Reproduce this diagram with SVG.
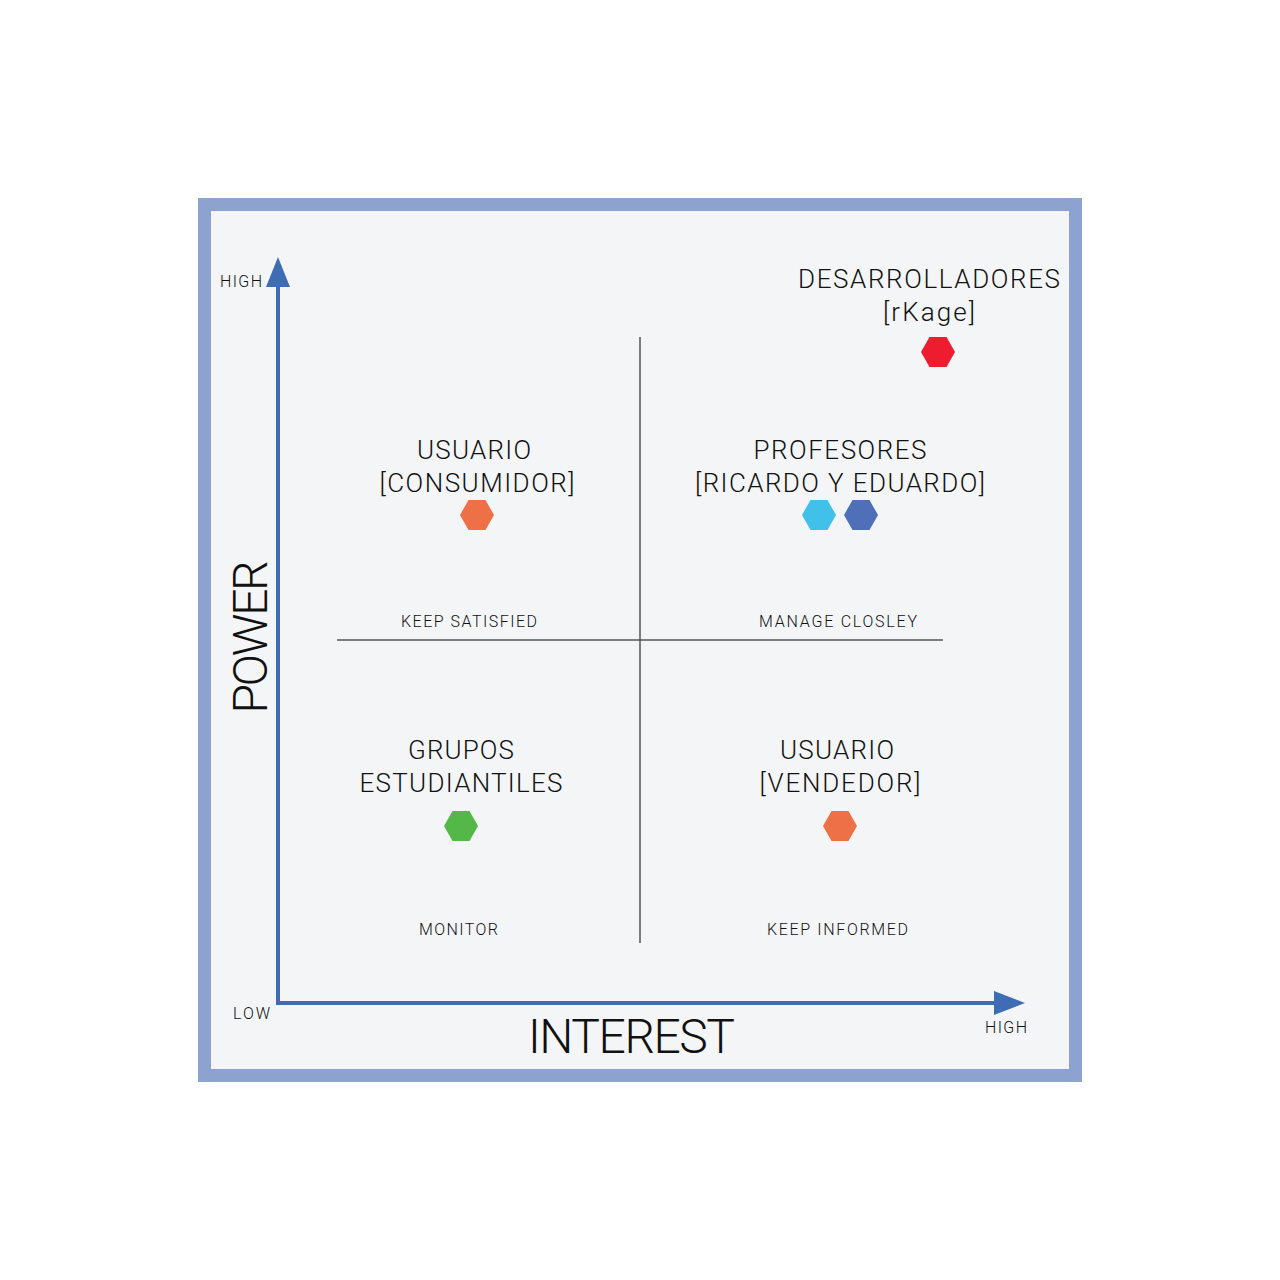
<svg xmlns="http://www.w3.org/2000/svg" width="1280" height="1280" viewBox="0 0 1280 1280">
<style>
text{font-family:Roboto,"Liberation Sans",sans-serif;fill:#111;text-anchor:middle;font-weight:300}
.big{font-size:26px}
.sm{font-size:16px}
.axl{font-size:16px}
.q{stroke:#555;stroke-width:1.5;fill:none}
.ax{stroke:#3f6db5;stroke-width:4;fill:none}
</style>
<defs>
<polygon id="hex" points="-17,0 -8.5,-15 8.5,-15 17,0 8.5,15 -8.5,15"/>
</defs>
<rect width="1280" height="1280" fill="#fff"/>
<rect x="204.5" y="204.5" width="871" height="871" fill="#f4f5f7" stroke="#8ea2cf" stroke-width="13"/>
<g id="connectors">
<line class="q" x1="640" y1="337" x2="640" y2="943"/>
<line class="q" x1="337" y1="640" x2="943" y2="640"/>
<line class="ax" x1="278" y1="285" x2="278" y2="1003"/>
<line class="ax" x1="276" y1="1003" x2="996" y2="1003"/>
<polygon points="278,257 290,287 266,287" fill="#3f6db5"/>
<polygon points="1025,1003 994,991 994,1015" fill="#3f6db5"/>
</g>
<g id="axis-labels">
<text class="axl" x="241" y="287" textLength="42">HIGH</text>
<text class="axl" x="251.5" y="1019" textLength="37">LOW</text>
<text class="axl" x="1006" y="1033" textLength="42">HIGH</text>
<text x="631.5" y="1053" font-size="48" textLength="207">INTEREST</text>
<text x="0" y="0" font-size="48" textLength="153" transform="translate(267,637) rotate(-90)">POWER</text>
</g>
<g id="quadrant-labels">
<text class="sm" x="469" y="627" textLength="136">KEEP SATISFIED</text>
<text class="sm" x="838" y="627" textLength="158">MANAGE CLOSLEY</text>
<text class="sm" x="458.5" y="935" textLength="79">MONITOR</text>
<text class="sm" x="837.5" y="935" textLength="141">KEEP INFORMED</text>
</g>
<g id="desarrolladores">
<text class="big" x="929" y="288" textLength="262">DESARROLLADORES</text>
<text class="big" x="929" y="321" textLength="92">[rKage]</text>
<use href="#hex" x="938" y="352" fill="#ed1c2e"/>
</g>
<g id="usuario-consumidor">
<text class="big" x="474" y="459" textLength="114">USUARIO</text>
<text class="big" x="477" y="492" textLength="195">[CONSUMIDOR]</text>
<use href="#hex" x="477" y="515" fill="#ee7047"/>
</g>
<g id="profesores">
<text class="big" x="840" y="459" textLength="173">PROFESORES</text>
<text class="big" x="840" y="492" textLength="290">[RICARDO Y EDUARDO]</text>
<use href="#hex" x="819" y="515" fill="#41c1ea"/>
<use href="#hex" x="861" y="515" fill="#4f6fb8"/>
</g>
<g id="grupos-estudiantiles">
<text class="big" x="461" y="759" textLength="106">GRUPOS</text>
<text class="big" x="461" y="792" textLength="203">ESTUDIANTILES</text>
<use href="#hex" x="461" y="826" fill="#53b848"/>
</g>
<g id="usuario-vendedor">
<text class="big" x="837" y="759" textLength="114">USUARIO</text>
<text class="big" x="840" y="792" textLength="161">[VENDEDOR]</text>
<use href="#hex" x="840" y="826" fill="#ee7047"/>
</g>
</svg>
